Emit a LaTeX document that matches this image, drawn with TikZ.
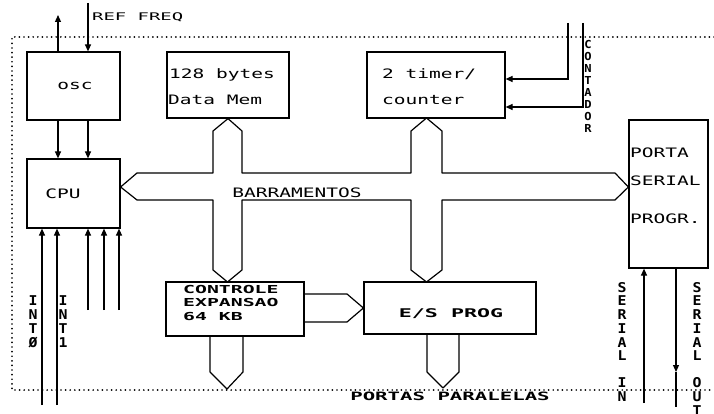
\documentclass[tikz,border=0pt]{standalone}
\usepackage{fontspec}
\usetikzlibrary{arrows.meta}
\newfontfamily\plotf[FakeStretch=1.5]{DejaVu Sans Mono}
\newfontfamily\plotw[FakeStretch=1.8]{DejaVu Sans Mono}
\newfontfamily\plotv[FakeStretch=1.1]{DejaVu Sans Mono}
\newcommand\vstk[3]{{\plotv\bfseries\fontsize{#1}{#2}\selectfont\begin{tabular}{@{}c@{}}#3\end{tabular}}}
\begin{document}
\begin{tikzpicture}[x=1pt,y=-1pt,
  box/.style={draw,line width=1.2pt,inner sep=0pt,rectangle},
  lbl/.style={inner sep=0pt,font=\plotf\fontsize{13}{15}\selectfont},
  blbl/.style={inner sep=0pt,font=\plotw\bfseries\fontsize{11}{13.5}\selectfont,align=left},
  vlbl/.style={inner sep=0pt,anchor=north},
  arr/.style={line width=1.2pt,-{Triangle[length=7pt,width=6pt]}},
  wire/.style={line width=1.2pt},
  bus/.style={line width=1.2pt,line join=round},
  border/.style={line width=1.9pt,line cap=round,dash pattern=on 0pt off 4.6pt}]
\useasboundingbox (0,0) rectangle (714,414);
% dotted frame
\draw[border] (714,37) -- (12,37) -- (12,390) -- (714,390);
% boxes
\node[box,minimum width=93pt,minimum height=68pt] (osc) at (73.5,86) {};
\node[box,minimum width=122pt,minimum height=66pt] (mem) at (228,85) {};
\node[box,minimum width=138pt,minimum height=66pt] (timer) at (436,85) {};
\node[box,minimum width=93pt,minimum height=69pt] (cpu) at (73.5,193.5) {};
\node[box,minimum width=79pt,minimum height=148pt] (serial) at (668.5,194) {};
\node[box,minimum width=138pt,minimum height=54pt] (ctrl) at (235,309) {};
\node[box,minimum width=172pt,minimum height=52pt] (es) at (450,308) {};
% box texts
\node[lbl] (osct) at (75,86) {osc};
\node[lbl,anchor=west] (memt1) at (169,75) {128 bytes};
\node[lbl,anchor=west] (memt2) at (168,100) {Data Mem};
\node[lbl,anchor=west] (timt1) at (382,74) {2 timer/};
\node[lbl,anchor=west] (timt2) at (382,100) {counter};
\node[lbl] (cput) at (63,194) {CPU};
\node[lbl,anchor=west] (sert1) at (630,153) {PORTA};
\node[lbl,anchor=west] (sert2) at (630,181) {SERIAL};
\node[lbl,anchor=west] (sert3) at (630,219) {PROGR.};
\node[blbl,anchor=north west] (ctrlt) at (183,285) {CONTROLE\\EXPANSAO\\64 KB};
\node[inner sep=0pt,font=\plotw\bfseries\fontsize{12}{14}\selectfont] (est) at (451,314) {E/S PROG};
\node[lbl] (bart) at (297,193) {BARRAMENTOS};
\node[inner sep=0pt,font=\plotw\bfseries\fontsize{11.5}{14}\selectfont] (portt) at (450,396) {PORTAS PARALELAS};
\node[inner sep=0pt,anchor=west,font=\plotw\fontsize{10.5}{12}\selectfont] (reft) at (92,17) {REF FREQ};
% vertical labels
\node[vlbl] (contt) at (588,40) {\vstk{11}{12}{C\\O\\N\\T\\A\\D\\O\\R}};
\node[vlbl] (sint) at (622,282) {\vstk{13.5}{13}{S\\E\\R\\I\\A\\L\\ \\I\\N}};
\node[vlbl] (soutt) at (697,282) {\vstk{13.5}{13}{S\\E\\R\\I\\A\\L\\ \\O\\U\\T}};
\node[vlbl] (int0t) at (33,295) {\vstk{13.5}{14}{I\\N\\T\\Ø}};
\node[vlbl] (int1t) at (63,295) {\vstk{13.5}{14}{I\\N\\T\\1}};
% buses
\draw[bus] (137,173) -- (213,173) -- (213,131) -- (mem.south) -- (242,131) -- (242,173)
  -- (411,173) -- (411,131) -- (426.5,118) -- (442,131) -- (442,173) -- (615,173)
  -- (serial.west |- 0,187) -- (615,200) -- (442,200) -- (442,270) -- (426.5,282)
  -- (411,270) -- (411,200) -- (242,200) -- (242,270) -- (227.5,282) -- (213,270)
  -- (213,200) -- (137,200) -- (cpu.east |- 0,187) -- cycle;
\draw[bus] (210,336) -- (210,372) -- (227,389) -- (243,372) -- (243,336);
\draw[bus] (427,334) -- (427,372) -- (443,388) -- (459,372) -- (459,334);
\draw[bus] (ctrl.east |- 0,294) -- (347,294) -- (es.west) -- (347,322) -- (ctrl.east |- 0,322);
% connectors
\coordinate (oscout) at (58,15);
\coordinate (refin) at (88,3);
\draw[arr] (oscout |- osc.north) -- (oscout);
\draw[arr] (refin) -- (refin |- osc.north);
\draw[arr] (osc.south -| oscout) -- (cpu.north -| oscout);
\draw[arr] (osc.south -| refin) -- (cpu.north -| refin);
\coordinate (int0) at (42,405);
\coordinate (int1) at (57,405);
\coordinate (in2) at (88,310);
\coordinate (in3) at (104,310);
\coordinate (in4) at (119,310);
\foreach \c in {int0,int1,in2,in3,in4} \draw[arr] (\c) -- (\c |- cpu.south);
\coordinate (tc1) at (568,23);
\coordinate (tc2) at (583,23);
\draw[arr] (tc1) |- ([yshift=6pt]timer.east);
\draw[arr] (tc2) |- ([yshift=-22pt]timer.east);
\coordinate (sin) at (644,403);
\coordinate (sout) at (676,407);
\coordinate (soutm) at (676,372);
\draw[arr] (sin) -- (sin |- serial.south);
\draw[arr] (serial.south -| sout) -- (soutm);
\draw[wire] (soutm) -- (sout);
\end{tikzpicture}
\end{document}
